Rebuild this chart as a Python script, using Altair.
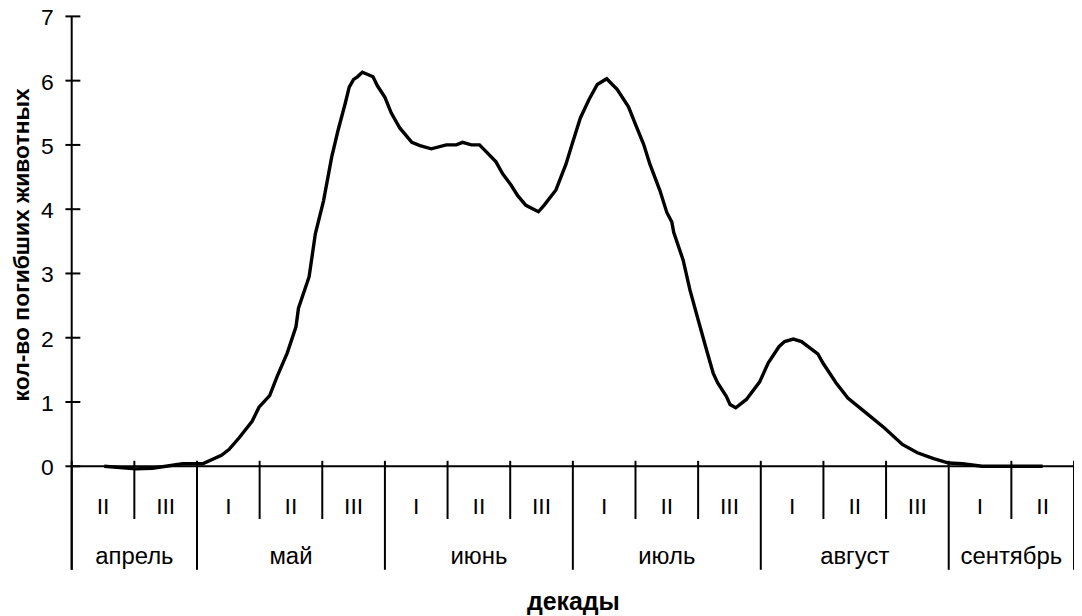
import altair as alt
import pandas as pd

# curve: position along the decade axis (0 = start of April II decade) and number of dead animals
decade_pos = [0.52, 1.02, 1.29, 1.77, 2.09, 2.39, 2.51, 2.67, 2.88, 2.99, 3.16, 3.28, 3.44, 3.58,
              3.62, 3.79, 3.89, 4.02, 4.15, 4.25, 4.37, 4.43, 4.50, 4.56, 4.64, 4.81, 4.88, 5.00,
              5.10, 5.24, 5.43, 5.56, 5.74, 5.98, 6.14, 6.24, 6.38, 6.51, 6.77, 6.88, 7.01, 7.12,
              7.25, 7.45, 7.54, 7.73, 7.89, 7.99, 8.12, 8.26, 8.39, 8.54, 8.71, 8.89, 9.00, 9.13,
              9.23, 9.39, 9.50, 9.58, 9.61, 9.76, 9.87, 10.00, 10.14, 10.24, 10.31, 10.45, 10.51,
              10.60, 10.77, 10.98, 11.12, 11.29, 11.38, 11.52, 11.65, 11.91, 11.99, 12.20, 12.39,
              12.68, 12.97, 13.26, 13.50, 13.76, 14.00, 14.22, 14.53, 15.01, 15.50]
deaths = [0.00, -0.04, -0.03, 0.04, 0.04, 0.17, 0.26, 0.44, 0.70, 0.92, 1.10, 1.40, 1.76, 2.17,
          2.46, 2.95, 3.62, 4.13, 4.81, 5.22, 5.66, 5.90, 6.02, 6.06, 6.13, 6.06, 5.92, 5.74,
          5.50, 5.26, 5.04, 4.99, 4.94, 5.00, 5.00, 5.04, 5.00, 5.00, 4.74, 4.55, 4.38, 4.21,
          4.06, 3.96, 4.06, 4.30, 4.70, 5.02, 5.42, 5.71, 5.94, 6.03, 5.86, 5.59, 5.32, 5.01,
          4.70, 4.29, 3.95, 3.80, 3.64, 3.21, 2.74, 2.28, 1.79, 1.45, 1.30, 1.09, 0.96,
          0.91, 1.04, 1.31, 1.61, 1.86, 1.94, 1.98, 1.94, 1.75, 1.61, 1.30, 1.06,
          0.83, 0.60, 0.34, 0.21, 0.12, 0.05, 0.04, 0.00, 0.00, 0.00]

decade_labels = ["II", "III", "I", "II", "III", "I", "II", "III", "I", "II", "III",
                 "I", "II", "III", "I", "II"]
month_labels = ["апрель", "май", "июнь", "июль", "август", "сентябрь"]
month_starts = [0, 2, 5, 8, 11, 14]
month_ends = [2, 5, 8, 11, 14, 16]
y_ticks = [0, 1, 2, 3, 4, 5, 6, 7]

W, H = 1007, 452
FONT = "Liberation Sans"
SW = 2

line_df = pd.DataFrame({"t": decade_pos, "v": deaths})
dec_df = pd.DataFrame({"c": [i + 0.5 for i in range(len(decade_labels))], "lab": decade_labels})
mon_df = pd.DataFrame({"c": [(a + b) / 2 for a, b in zip(month_starts, month_ends)],
                       "lab": month_labels})
month_bounds = sorted(set(month_starts + month_ends))
dec_bounds = [i for i in range(len(decade_labels) + 1) if i not in month_bounds]
mb_df = pd.DataFrame({"t": month_bounds})
db_df = pd.DataFrame({"t": dec_bounds})
yt_df = pd.DataFrame({"y": y_ticks})
xaxis_df = pd.DataFrame({"x0": [0], "x1": [len(decade_labels)], "y": [0]})
one_df = pd.DataFrame({"a": [0]})

xs = alt.Scale(domain=[0, len(decade_labels)], nice=False, zero=False)
ys = alt.Scale(domain=[0, 7], nice=False, zero=False)

line = alt.Chart(line_df).mark_line(color="black", strokeWidth=3.4).encode(
    x=alt.X("t:Q", scale=xs, axis=alt.Axis(
        title="декады", labels=False, ticks=False, domain=False, grid=False,
        titleFont=FONT, titleFontSize=25, titleFontWeight="bold", titleColor="black",
        titleX=503.5, titleY=143.5, titleBaseline="alphabetic", titleAlign="center")),
    y=alt.Y("v:Q", scale=ys, axis=alt.Axis(
        values=y_ticks, format="d", domain=False, ticks=False, tickSize=0, grid=False,
        labelFont=FONT, labelFontSize=23, labelColor="black", labelPadding=18.5,
        labelOffset=1.5,
        title="кол-во погибших животных", titleFont=FONT, titleFontSize=23,
        titleFontWeight="bold", titleColor="black", titleAngle=270,
        titleX=-43, titleY=229, titleBaseline="alphabetic", titleAlign="center")),
)

ytick = alt.Chart(yt_df).mark_rule(color="black", strokeWidth=SW).encode(
    x=alt.value(-6.3), x2=alt.value(8.7), y=alt.Y("y:Q", scale=ys))

yline = alt.Chart(one_df).mark_rule(color="black", strokeWidth=SW).encode(
    x=alt.value(0), y=alt.value(0), y2=alt.value(556))

xline = alt.Chart(xaxis_df).mark_rule(color="black", strokeWidth=SW).encode(
    x=alt.X("x0:Q", scale=xs), x2="x1:Q", y=alt.Y("y:Q", scale=ys))

msep = alt.Chart(mb_df).mark_rule(color="black", strokeWidth=SW).encode(
    x=alt.X("t:Q", scale=xs), y=alt.value(446.5), y2=alt.value(556))

dsep = alt.Chart(db_df).mark_rule(color="black", strokeWidth=SW).encode(
    x=alt.X("t:Q", scale=xs), y=alt.value(446.5), y2=alt.value(505))

dtext = alt.Chart(dec_df).mark_text(font=FONT, fontSize=23, color="black",
                                    baseline="alphabetic", align="center").encode(
    x=alt.X("c:Q", scale=xs), y=alt.value(500), text="lab:N")

mtext = alt.Chart(mon_df).mark_text(font=FONT, fontSize=24, color="black",
                                    baseline="alphabetic", align="center").encode(
    x=alt.X("c:Q", scale=xs), y=alt.value(550), text="lab:N")

chart = alt.layer(xline, msep, dsep, yline, ytick, dtext, mtext, line).properties(
    width=W, height=H,
    padding={"left": 64, "top": 7, "right": 0, "bottom": 148},
    autosize=alt.AutoSizeParams(type="none"),
    background="white",
).configure_view(stroke=None)

chart.save("out.html", embed_options={"renderer": "svg", "actions": False})
